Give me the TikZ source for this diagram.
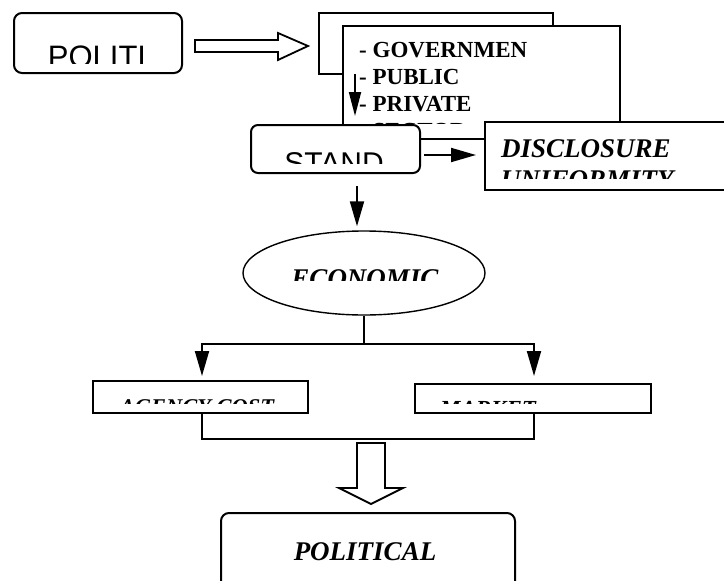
\documentclass[tikz,border=0pt]{standalone}
\usepackage{fontspec}
\setmainfont{Liberation Serif}
\newfontfamily\arialf{Liberation Sans}
\usetikzlibrary{arrows.meta,calc,shapes.geometric}
\tikzset{
  boxed/.style={draw, fill=white, line width=2pt, inner sep=0pt},
  rboxed/.style={boxed, rounded corners=8pt},
  conn/.style={line width=1.9pt},
  arr/.style={conn, -{Triangle[length=25pt,width=14pt]}},
  hollow/.style={draw, fill=white, line width=1.8pt, line join=miter},
  lbl/.style={inner sep=0pt, font=\bfseries\itshape\fontsize{27}{31}\selectfont},
  sanslbl/.style={inner sep=0pt},
}
\begin{document}
\begin{tikzpicture}[x=1pt,y=-1pt]
\useasboundingbox (0,0) rectangle (724,581);

% POLITI box
\node[rboxed, minimum width=168pt, minimum height=60pt] (politi) at (98,43) {};
\begin{scope}
  \clip (14,13) rectangle (182,63);
  \node[sanslbl, anchor=base, font=\arialf\fontsize{31}{31}\selectfont] (tpoliti) at (97,67) {POLITI};
\end{scope}

% hollow right arrow
\draw[hollow] (195,40) -- (278,40) -- (278,33) -- (308,46) -- (278,60) -- (278,52) -- (195,52) -- cycle;

% back and front boxes
\node[boxed, minimum width=234pt, minimum height=61pt] (back) at (436,43.5) {};
\node[boxed, minimum width=277pt, minimum height=113pt] (front) at (481.5,82.5) {};
\begin{scope}
  \clip (343,26) rectangle (620,123);
  \node[inner sep=0pt, anchor=base west, align=left, font=\bfseries\fontsize{23}{27}\selectfont] (tfront) at (359,138) {- GOVERNMEN\\- PUBLIC\\- PRIVATE\\- SECTOR};
\end{scope}
\draw[arr, -{Triangle[length=24pt,width=12pt]}] ($(front.north west)+(13,49)$) -- ($(front.north west)+(13,91)$);

% STAND box
\node[rboxed, rounded corners=7pt, minimum width=169pt, minimum height=48pt] (stand) at (335.5,149) {};
\begin{scope}
  \clip (251,125) rectangle (420,163);
  \node[sanslbl, anchor=base, font=\arialf\fontsize{30}{30}\selectfont] (tstand) at (334,173) {STAND};
\end{scope}

% DISCLOSURE box
\node[boxed, minimum width=250pt, minimum height=68pt] (disc) at (610,156) {};
\begin{scope}
  \clip (485,122) rectangle (724,178);
  \node[lbl, anchor=base west, align=left] (tdisc) at (501,188) {DISCLOSURE\\UNIFORMITY};
\end{scope}
\draw[arr] ($(stand.east)+(3,6)$) -- ($(disc.west)+(-8,-1)$);

% ECONOMIC ellipse
\node[ellipse, draw, line width=1.4pt, inner sep=0pt, minimum width=242pt, minimum height=84pt] (econ) at (364,273) {};
\begin{scope}
  \clip (250,240) rectangle (480,280);
  \node[lbl, anchor=base] (tecon) at (365,287) {ECONOMIC};
\end{scope}
\draw[arr] ($(stand.south)+(21.5,12)$) -- ($(econ.north)+(-7,-4)$);

% branch
\coordinate (sp) at ($(econ.south)+(0,28)$);
\draw[conn] (econ.south) -- (sp);

% AGENCY COST and MARKET boxes
\node[boxed, minimum width=215pt, minimum height=32pt] (agency) at (200.5,397) {};
\node[boxed, minimum width=236pt, minimum height=29pt] (market) at (533,398.5) {};
\begin{scope}
  \clip (93,381) rectangle (308,403);
  \node[lbl, anchor=base, font=\bfseries\itshape\fontsize{22.5}{26}\selectfont] (tagency) at (197,414) {AGENCY COST};
\end{scope}
\begin{scope}
  \clip (415,384) rectangle (651,403);
  \node[lbl, anchor=base, font=\bfseries\itshape\fontsize{23}{26}\selectfont] (tmarket) at (488,416) {MARKET};
\end{scope}
\draw[arr] (sp) -| ($(agency.north)+(1.5,-4)$);
\draw[arr] (sp) -| ($(market.north)+(1,-7)$);
\draw[conn] ($(agency.south)+(1.5,0)$) |- ($(market.south)+(1,25)$) -- ($(market.south)+(1,0)$);

% hollow down arrow
\draw[hollow] (357,443) -- (385,443) -- (385,488) -- (403,488) -- (371,504) -- (339,488) -- (357,488) -- cycle;

% POLITICAL box
\node[rboxed, minimum width=294pt, minimum height=87pt] (political) at (368,556.5) {};
\node[lbl, anchor=base] (tpolitical) at (365,560) {POLITICAL};
\end{tikzpicture}
\end{document}
